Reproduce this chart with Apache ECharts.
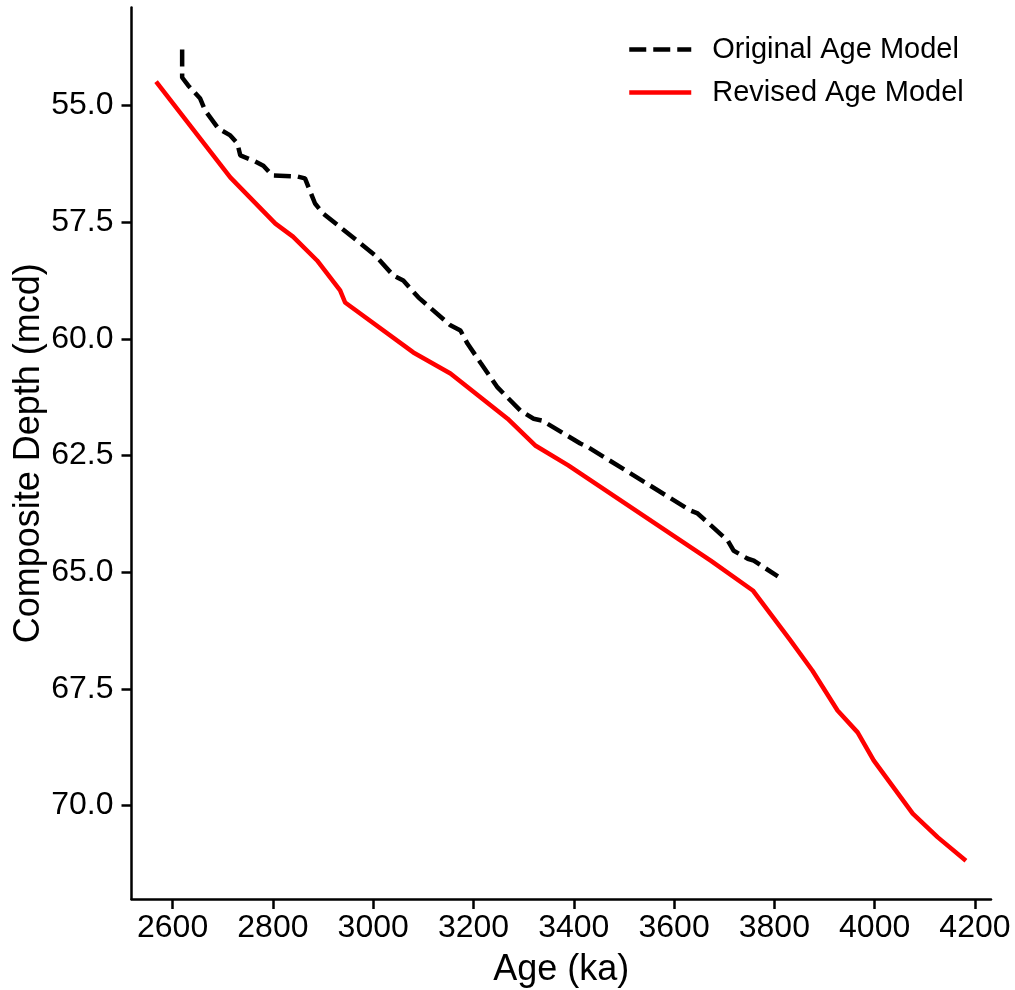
<!DOCTYPE html>
<html>
<head>
<meta charset="utf-8">
<script src="https://cdn.jsdelivr.net/npm/echarts@6/dist/echarts.min.js"></script>
<style>
  html, body { margin: 0; padding: 0; background: #fff; }
  #chart { width: 1015px; height: 990px; }
</style>
</head>
<body>
<div id="chart"></div>
<script>
// Original age model (dashed black): age in ka, composite depth in mcd
const originalAge = [2619, 2619, 2631, 2655, 2665, 2691, 2715, 2729, 2735, 2761, 2781, 2799, 2849, 2864,
  2884, 2900, 3004, 3040, 3060, 3090, 3154, 3174, 3188, 3214, 3248, 3294, 3320, 3337, 3413, 3427,
  3633, 3647, 3707, 3719, 3747, 3759, 3807]
const originalDepth = [53.80, 54.40, 54.57, 54.85, 55.11, 55.49, 55.64, 55.81, 56.07, 56.18, 56.29, 56.50, 56.52, 56.56,
  57.10, 57.31, 58.21, 58.64, 58.75, 59.11, 59.71, 59.82, 60.10, 60.51, 61.04, 61.54, 61.71, 61.75, 62.24, 62.31,
  63.68, 63.74, 64.32, 64.54, 64.71, 64.75, 65.09]

// Revised age model (solid red)
const revisedAge = [2567, 2715, 2805, 2840, 2888, 2934, 2944, 3080, 3154, 3268, 3324, 3389, 3673, 3757,
  3832, 3876, 3926, 3966, 3998, 4076, 4126, 4182]
const revisedDepth = [54.49, 56.54, 57.53, 57.81, 58.32, 58.96, 59.22, 60.29, 60.74, 61.71, 62.29, 62.71, 64.75, 65.39,
  66.46, 67.11, 67.96, 68.43, 69.03, 70.17, 70.68, 71.18]

const ageTicks = [2600, 2800, 3000, 3200, 3400, 3600, 3800, 4000, 4200]
const depthTicks = [55, 57.5, 60, 62.5, 65, 67.5, 70]

const font = '"Liberation Sans", Arial, sans-serif'
const zip = (xs, ys) => xs.map((x, i) => [x, ys[i]])

const chart = echarts.init(document.getElementById('chart'), null, { renderer: 'canvas' })

chart.setOption({
  animation: false,
  backgroundColor: '#fff',
  textStyle: { fontFamily: font, color: '#000' },
  grid: { left: 131.5, right: 24, top: 7.5, bottom: 91, outerBoundsMode: 'none' },
  legend: {
    left: 622,
    top: 30,
    orient: 'vertical',
    itemWidth: 62,
    itemHeight: 14,
    itemGap: 14,
    itemStyle: { opacity: 0 },
    lineStyle: { width: 4.5 },
    textStyle: { fontFamily: font, fontSize: 29, color: '#000', padding: [0, 0, 0, 16] },
    data: ['Original Age Model', 'Revised Age Model'],
  },
  xAxis: {
    type: 'value',
    min: 2518,
    max: 4232,
    name: 'Age (ka)',
    nameLocation: 'middle',
    nameGap: 53,
    nameMoveOverlap: false,
    nameTextStyle: { fontFamily: font, fontSize: 36, color: '#000' },
    axisLine: { onZero: false, lineStyle: { color: '#000', width: 2.5 } },
    axisTick: { length: 10, lineStyle: { color: '#000', width: 2.5 }, customValues: ageTicks },
    axisLabel: {
      fontFamily: font, fontSize: 32, color: '#000', margin: 13,
      customValues: ageTicks,
      formatter: (v) => String(v),
    },
    splitLine: { show: false },
  },
  yAxis: {
    type: 'value',
    inverse: true,
    min: 52.9,
    max: 72.0,
    name: 'Composite Depth (mcd)',
    nameLocation: 'middle',
    nameGap: 84,
    nameMoveOverlap: false,
    nameTextStyle: { fontFamily: font, fontSize: 36, color: '#000' },
    axisLine: { show: true, lineStyle: { color: '#000', width: 2.5 } },
    axisTick: { show: true, length: 10, lineStyle: { color: '#000', width: 2.5 }, customValues: depthTicks },
    axisLabel: {
      fontFamily: font, fontSize: 32, color: '#000', margin: 18,
      customValues: depthTicks,
      formatter: (v) => v.toFixed(1),
    },
    splitLine: { show: false },
  },
  series: [
    {
      name: 'Original Age Model',
      type: 'line',
      data: zip(originalAge, originalDepth),
      symbol: 'none',
      lineStyle: { color: '#000', width: 4.5, type: [17, 7], cap: 'butt' },
      itemStyle: { color: '#000' },
      z: 3,
    },
    {
      name: 'Revised Age Model',
      type: 'line',
      data: zip(revisedAge, revisedDepth),
      symbol: 'none',
      lineStyle: { color: '#ff0000', width: 4.5, join: 'round' },
      itemStyle: { color: '#ff0000' },
      z: 2,
    },
  ],
})
</script>
</body>
</html>
